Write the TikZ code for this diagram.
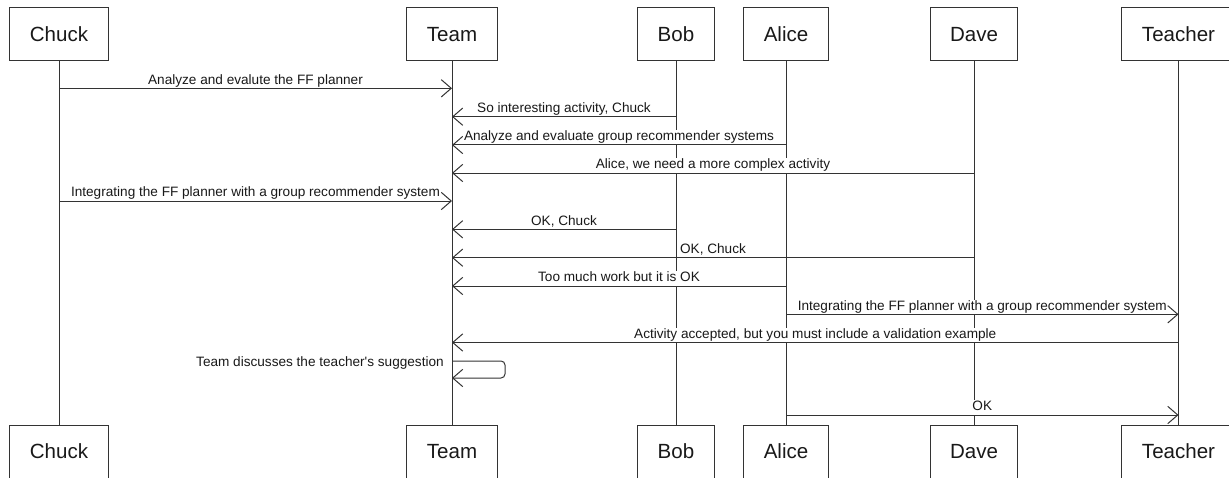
\documentclass[tikz,border=0pt]{standalone}
\usepackage{fontspec}
\setmainfont{Liberation Sans}
\usetikzlibrary{arrows.meta}
\begin{document}
\begin{tikzpicture}[x=0.75pt,y=-0.75pt,
	actor/.style={draw=black!80,line width=0.75pt,fill=white,text=black!90,minimum height=39.75pt,inner xsep=15pt,font=\fontsize{15.4}{18}\selectfont},
	life/.style={draw=black!80,line width=0.75pt},
	msg/.style={draw=black!80,line width=0.75pt,-{Straight Barb[length=7.5pt,width=13pt]}},
	lbl/.style={fill=white,text=black!90,inner xsep=0.5pt,inner ysep=0.5pt,text height=7.4pt,text depth=2.2pt,font=\fontsize{10.2}{12}\selectfont}]
	\def\ytop{34.5}
	\def\ybot{451.5}
	\useasboundingbox (0,0) rectangle (1229,478);
	% participants, top and bottom, with their lifelines
	\foreach \n/\t/\x in {chuck/Chuck/59,team/Team/452,bob/Bob/676,alice/Alice/786,dave/Dave/974,teacher/Teacher/1178.5}{
		\node[actor] (\n) at (\x,\ytop) {\t};
		\node[actor] (\n-b) at (\x,\ybot) {\t};
		\draw[life] (\n) -- (\n-b);
	}
	% messages
	\foreach \a/\b/\y/\t [count=\i] in {
		chuck/team/88.3/{Analyze and evalute the FF planner},
		bob/team/116.7/{So interesting activity, Chuck},
		alice/team/145/{Analyze and evaluate group recommender systems},
		dave/team/173/{Alice, we need a more complex activity},
		chuck/team/201/{Integrating the FF planner with a group recommender system},
		bob/team/229.3/{OK, Chuck},
		dave/team/257.7/{OK, Chuck},
		alice/team/286/{Too much work but it is OK},
		alice/teacher/314.3/{Integrating the FF planner with a group recommender system},
		teacher/team/342.5/{Activity accepted, but you must include a validation example},
		alice/teacher/415/{OK}}{
		\draw[msg] (\a |- 0,\y) -- node[lbl,above] (m\i) {\t} (\b |- 0,\y);
	}
	% self message
	\draw[msg,rounded corners=3pt] (team |- 0,361) -- ++(53,0) -- ++(0,17) -- (team |- 0,378);
	\node[lbl,fill=none,anchor=base east,xshift=-5.5pt] (self) at (team |- 0,366.5) {Team discusses the teacher\textquotesingle s suggestion};
\end{tikzpicture}
\end{document}
